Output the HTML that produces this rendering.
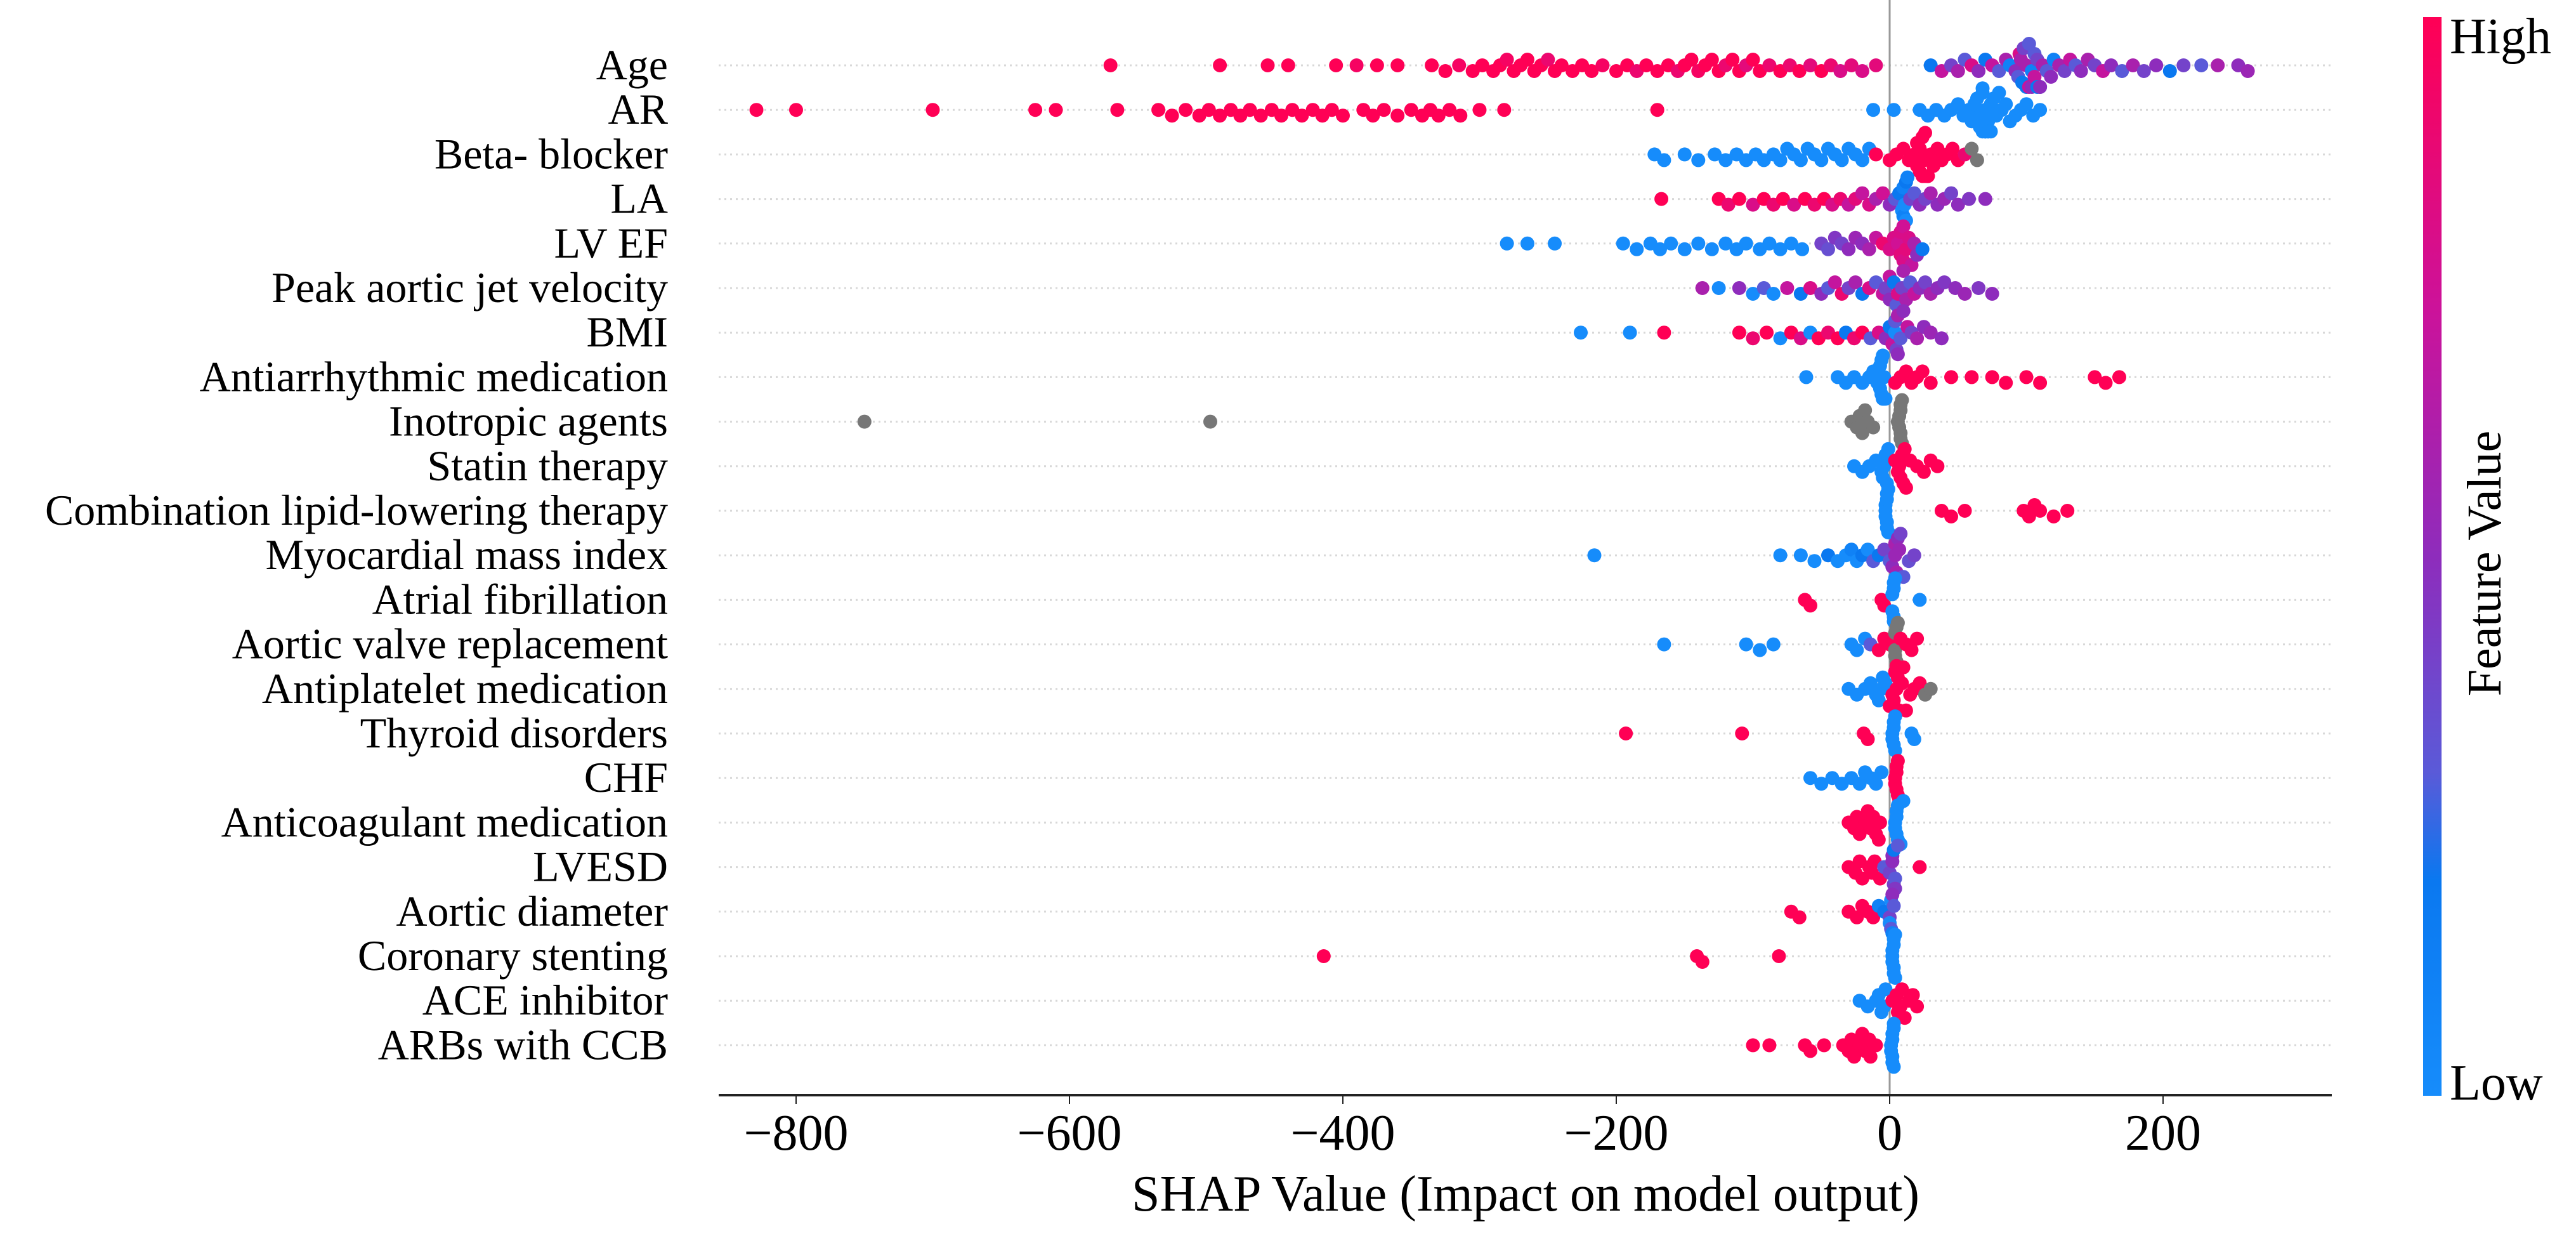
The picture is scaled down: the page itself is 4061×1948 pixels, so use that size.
<!DOCTYPE html>
<html><head><meta charset="utf-8"><style>
html,body{margin:0;padding:0;background:#fff;}
svg{display:block;font-family:"Liberation Serif",serif;}
</style></head><body>
<svg id="chart" width="4061" height="1948" viewBox="0 0 4061 1948" xmlns="http://www.w3.org/2000/svg">
<defs>
<linearGradient id="cbgrad" x1="0" y1="1" x2="0" y2="0">
<stop offset="0" stop-color="#168cfb"/><stop offset="0.2" stop-color="#0a78f0"/>
<stop offset="0.3" stop-color="#5a5ad8"/><stop offset="0.5" stop-color="#8e2cbc"/>
<stop offset="0.73" stop-color="#cc129a"/><stop offset="1" stop-color="#ff0055"/>
</linearGradient>
</defs>
<g id="grid"></g>
<line id="zeroline" stroke="#999" stroke-width="3"/>
<g id="dots"></g>
<g id="labels"></g>
<g id="xaxis"></g>
<text x="2405" y="1908" font-size="80" text-anchor="middle">SHAP Value (Impact on model output)</text>
<rect x="3820" y="27" width="29" height="1700" fill="url(#cbgrad)"/>
<text x="3862" y="84" font-size="80">High</text>
<text x="3862" y="1733" font-size="80">Low</text>
<text x="0" y="0" font-size="76" text-anchor="middle" transform="translate(3942,888) rotate(-90)">Feature Value</text>
</svg>
<script>
const categories = ["Age","AR","Beta- blocker","LA","LV EF","Peak aortic jet velocity","BMI","Antiarrhythmic medication","Inotropic agents","Statin therapy","Combination lipid-lowering therapy","Myocardial mass index","Atrial fibrillation","Aortic valve replacement","Antiplatelet medication","Thyroid disorders ","CHF","Anticoagulant medication","LVESD","Aortic diameter","Coronary stenting","ACE inhibitor","ARBs with CCB"];
const xTicks = [-800,-600,-400,-200,0,200];
const xTickLabels = ["\u2212800","\u2212600","\u2212400","\u2212200","0","200"];
// each point: [shap value, feature value 0..1 (-1 = missing/grey)]
const shapPoints = [
 [[-570,1],[-490,1],[-455,1],[-440,1],[-405,1],[-390,.95],[-375,1],[-360,1],[-335,1],[-325,1],[-315,.95],[-305,1],[-298,1],[-290,1],[-285,1],[-280,.95],[-275,1],[-270,1],[-265,1],[-260,1],[-255,1],[-250,.9],[-245,1],[-240,1],[-232,1],[-225,1],[-218,1],[-210,.95],[-200,1],[-192,1],[-185,.9],[-178,1],[-170,1],[-162,1],[-155,.9],[-150,1],[-145,1],[-140,.95],[-135,1],[-130,1],[-125,1],[-120,.9],[-115,1],[-110,1],[-105,.85],[-100,1],[-95,1],[-88,.9],[-80,1],[-73,.9],[-66,1],[-58,.85],[-50,1],[-43,.9],[-36,.8],[-28,.85],[-20,.8],[-10,.85],[30,.2],[38,.7],[45,.4],[50,.6],[55,.3],[60,.8],[65,.5],[70,.2],[75,.7],[80,.3],[85,.6],[88,.1],[92,.5],[95,.8],[97,.2],[100,.6],[102,.3],[104,.1],[106,.7],[108,.4],[110,.2],[112,.6],[115,.3],[118,.5],[120,.1],[124,.6],[128,.4],[132,.7],[136,.3],[140,.5],[145,.6],[150,.4],[156,.7],[162,.5],[170,.3],[178,.6],[186,.4],[195,.5],[205,.2],[215,.4],[228,.3],[240,.6],[255,.5],[262,.55],[98,.4],[100,.2],[102,.7],[104,.5],[106,.3],[96,.6],[108,.2],[110,.5],[94,.3]],
 [[-829,1],[-800,1],[-700,1],[-625,1],[-610,1],[-565,1],[-535,1],[-525,1],[-515,1],[-505,1],[-498,1],[-490,1],[-482,1],[-475,1],[-468,1],[-460,1],[-452,1],[-445,1],[-437,1],[-430,1],[-422,1],[-415,1],[-408,1],[-400,1],[-385,1],[-378,1],[-370,1],[-360,1],[-350,1],[-342,1],[-336,1],[-330,1],[-322,1],[-314,1],[-300,1],[-282,1],[-170,1],[-12,0],[3,0],[22,0],[28,0],[34,0],[40,0],[45,0],[50,0],[54,0],[58,0],[60,0],[62,0],[64,0],[66,0],[68,0],[68,0],[70,0],[70,0],[70,0],[72,0],[72,0],[74,0],[74,0],[76,0],[78,0],[80,0],[82,0],[85,0],[88,0],[92,0],[96,0],[100,0],[105,0],[110,0],[66,0],[68,0],[70,0],[72,0]],
 [[-172,0],[-165,0],[-150,0],[-140,0],[-128,0],[-120,0],[-112,0],[-105,0],[-98,0],[-92,0],[-85,0],[-80,0],[-75,0],[-70,0],[-65,0],[-60,0],[-55,0],[-50,0],[-45,0],[-40,0],[-35,0],[-30,0],[-25,0],[-20,0],[-15,0],[-10,1],[0,1],[5,1],[10,1],[14,1],[18,1],[20,1],[22,1],[24,1],[25,1],[26,1],[28,1],[30,1],[32,1],[35,1],[38,1],[42,1],[46,1],[50,1],[55,.9],[60,-1],[64,-1],[22,1],[24,1],[26,1],[28,1],[20,1]],
 [[-167,1],[-125,1],[-118,.9],[-110,1],[-100,.8],[-92,1],[-85,.9],[-78,1],[-70,.8],[-62,1],[-55,.9],[-48,1],[-42,.8],[-36,.9],[-30,.7],[-25,.85],[-20,.7],[-15,.8],[-10,.6],[-5,.75],[0,.5],[4,.3],[7,.2],[9,0],[10,.1],[11,0],[12,.2],[13,.1],[15,.4],[18,.3],[22,.5],[26,.4],[30,.6],[35,.5],[40,.55],[45,.4],[50,.5],[58,.45],[70,.5],[10,.1],[12,0]],
 [[-280,0],[-265,0],[-245,0],[-195,0],[-185,0],[-175,0],[-168,0],[-160,0],[-150,0],[-140,0],[-130,0],[-120,0],[-112,0],[-105,0],[-95,0],[-88,0],[-80,0],[-72,0],[-64,0],[-50,.4],[-45,.35],[-40,.45],[-35,.4],[-30,.5],[-25,.55],[-20,.5],[-15,.6],[-10,.7],[-5,.9],[0,.8],[3,.8],[6,.75],[8,.85],[10,.8],[12,.85],[14,.8],[16,.7],[18,.6],[20,.5],[24,.2],[8,.8],[10,.75]],
 [[-137,.6],[-125,0],[-110,.5],[-100,0],[-92,.3],[-85,0],[-75,.7],[-65,.2],[-58,.8],[-50,.5],[-45,.3],[-40,.7],[-35,.9],[-30,.4],[-25,.6],[-20,.2],[-15,.8],[-10,.3],[-5,.7],[0,.5],[3,.2],[6,.8],[9,.4],[12,.6],[15,.3],[18,.7],[22,.5],[26,.4],[30,.6],[35,.5],[40,.45],[48,.5],[55,.55],[65,.45],[75,.5],[0,.7],[5,.3],[10,.6],[-3,.4]],
 [[-226,0],[-190,0],[-165,1],[-110,1],[-100,.9],[-90,1],[-80,0],[-72,1],[-65,.8],[-58,0],[-52,1],[-45,.9],[-38,1],[-32,.2],[-26,.9],[-20,1],[-14,.3],[-8,.8],[-3,.5],[0,.2],[2,.7],[4,0],[5,.4],[6,.6],[8,.3],[10,.5],[13,.7],[16,.4],[20,.6],[25,.5],[30,.55],[38,.5],[4,.3],[6,.5]],
 [[-61,0],[-38,0],[-32,0],[-26,0],[-20,0],[-15,0],[-12,0],[-9,0],[-7,0],[-6,0],[-5,0],[-4,0],[-3,0],[-6,0],[-5,0],[-4,0],[-7,0],[-5,0],[4,1],[8,1],[12,1],[16,1],[20,1],[24,1],[30,1],[45,1],[60,1],[75,1],[85,1],[100,1],[110,1],[150,1],[158,1],[168,1]],
 [[-750,-1],[-497,-1],[-28,-1],[-24,-1],[-20,-1],[-16,-1],[-12,-1],[-22,-1],[-18,-1],[6,-1],[7,-1],[8,-1],[8,-1],[9,-1],[8,-1],[7,-1],[9,-1],[8,-1]],
 [[-26,0],[-20,0],[-15,0],[-10,0],[-6,0],[-4,0],[-2,0],[-3,0],[-1,0],[-5,0],[4,1],[6,1],[8,1],[10,1],[12,1],[9,1],[11,1],[15,1],[20,1],[25,1],[30,1],[35,1],[7,1]],
 [[-3,0],[-2,0],[-1,0],[-2,0],[-3,0],[-1,0],[-2,0],[-2,0],[-1,0],[-3,0],[38,1],[45,1],[55,1],[98,1],[102,1],[106,1],[110,1],[120,1],[130,1]],
 [[-216,0],[-80,0],[-65,0],[-55,0],[-45,.2],[-38,0],[-32,0],[-28,.1],[-24,0],[-20,.2],[-16,0],[-12,.3],[-8,.2],[-4,.4],[0,.3],[2,.5],[4,.55],[5,.6],[6,.5],[7,.55],[8,.4],[10,.3],[14,.35],[18,.4],[4,.6],[6,.5]],
 [[-62,1],[-58,1],[-6,1],[-4,1],[2,0],[3,0],[4,0],[3,0],[4,0],[3,0],[2,0],[4,0],[3,0],[22,0]],
 [[-165,0],[-105,0],[-95,0],[-85,0],[-28,0],[-24,0],[-18,0],[-14,.3],[-8,1],[-4,1],[0,1],[4,-1],[5,-1],[6,-1],[4,-1],[5,-1],[8,1],[12,1],[16,1],[20,1],[5,1],[4,-1]],
 [[-30,0],[-24,0],[-18,0],[-14,0],[-10,0],[-6,0],[-3,0],[-8,0],[-5,0],[0,1],[3,1],[6,1],[9,1],[12,1],[15,1],[18,1],[22,1],[4,1],[7,1],[10,1],[5,1],[26,-1],[30,-1],[2,1]],
 [[-193,1],[-108,1],[-19,1],[-16,1],[2,0],[3,0],[4,0],[3,0],[2,0],[4,0],[3,0],[16,0],[18,0]],
 [[-58,0],[-50,0],[-42,0],[-35,0],[-28,0],[-22,0],[-18,0],[-14,0],[-10,0],[-6,0],[4,1],[5,1],[6,1],[5,1],[4,1],[6,1],[5,1],[7,1]],
 [[-30,1],[-26,1],[-22,1],[-18,1],[-14,1],[-10,1],[-7,1],[-24,1],[-16,1],[-12,1],[-8,1],[4,0],[5,0],[6,0],[4,0],[5,0],[6,0],[5,0],[10,0],[8,0]],
 [[-30,1],[-25,1],[-20,1],[-15,1],[-11,1],[-7,1],[-22,1],[-13,1],[-4,.3],[0,.4],[2,.5],[3,.4],[4,.3],[2,.5],[3,.2],[4,.45],[6,.3],[22,1]],
 [[-72,1],[-66,1],[-30,1],[-24,1],[-20,1],[-16,1],[-12,1],[-8,.1],[-4,.2],[0,.4],[1,0],[2,.5],[1,.3],[2,.1],[0,0],[3,.3]],
 [[-414,1],[-141,1],[-137,1],[-81,1],[2,0],[3,0],[4,0],[3,0],[2,0],[4,0],[3,0],[2,0],[4,0],[3,0]],
 [[-22,0],[-16,0],[-10,0],[-6,0],[-3,0],[-8,0],[-4,0],[2,1],[5,1],[8,1],[11,1],[14,1],[17,1],[20,1],[6,1],[9,1]],
 [[-100,1],[-88,1],[-62,1],[-58,1],[-48,1],[-34,1],[-30,1],[-26,1],[-22,1],[-18,1],[-14,1],[-10,1],[-28,1],[-20,1],[-15,1],[1,0],[2,0],[3,0],[2,0],[1,0],[3,0],[2,0],[3,0],[2,0]]
];

const NS = "http://www.w3.org/2000/svg";
const X0 = 2979, PX_PER_UNIT = 2.155;
const PLOT_L = 1133, PLOT_R = 3676, AXIS_Y = 1726;
const ROW_Y0 = 103, ROW_STEP = 70.2;
const xScale = v => X0 + v * PX_PER_UNIT;
const yScale = i => ROW_Y0 + i * ROW_STEP;
const R = 11;

function colorFor(c){
  if (c < 0) return "#777777";
  const stops = [[0,[22,140,251]],[0.2,[10,120,240]],[0.3,[90,90,216]],[0.5,[142,44,188]],[0.73,[204,18,154]],[1,[255,0,85]]];
  for (let k=1;k<stops.length;k++){
    if (c <= stops[k][0]){
      const a=stops[k-1], b=stops[k], t=(c-a[0])/(b[0]-a[0]);
      const rgb=a[1].map((q,j)=>Math.round(q+(b[1][j]-q)*t));
      return "rgb("+rgb.join(",")+")";
    }
  }
  return "rgb(255,0,85)";
}

const grid = document.getElementById("grid");
const dots = document.getElementById("dots");
const labels = document.getElementById("labels");
const xaxis = document.getElementById("xaxis");

const zl = document.getElementById("zeroline");
zl.setAttribute("x1", xScale(0)); zl.setAttribute("x2", xScale(0));
zl.setAttribute("y1", 0); zl.setAttribute("y2", AXIS_Y);

categories.forEach((name, i) => {
  const y = yScale(i);
  const gl = document.createElementNS(NS, "line");
  
  
  gl.setAttribute("x1", PLOT_L); gl.setAttribute("x2", PLOT_R);
  gl.setAttribute("y1", y); gl.setAttribute("y2", y);
  gl.setAttribute("stroke", "#d8d8d8"); gl.setAttribute("stroke-width", "3");
  gl.setAttribute("stroke-dasharray", "3 6");
  grid.appendChild(gl);

  const t = document.createElementNS(NS, "text");
  
  
  t.setAttribute("x", 1053); t.setAttribute("y", y + 22);
  t.setAttribute("font-size", "68"); t.setAttribute("text-anchor", "end");
  t.setAttribute("xml:space", "preserve");
  t.textContent = name;
  labels.appendChild(t);

  const pts = shapPoints[i].map(p => ({x: xScale(p[0]), c: p[1]})).sort((a,b)=>a.x-b.x);
  const placed = [];
  pts.forEach(p => {
    let off = 0;
    for (let k=0;k<12;k++){
      const cand = (k===0)?0:((k%2===1)?1:-1)*Math.ceil(k/2)*9;
      const clash = placed.some(q => Math.abs(q.x-p.x) < 2*R && Math.abs(q.o-cand) < 9);
      off = cand;
      if (!clash) break;
    }
    off = Math.max(-34, Math.min(34, off));
    placed.push({x:p.x, o:off});
    const cir = document.createElementNS(NS, "circle");
    
    
    cir.setAttribute("cx", p.x.toFixed(1));
    cir.setAttribute("cy", (y + off).toFixed(1));
    cir.setAttribute("r", R);
    cir.setAttribute("fill", colorFor(p.c));
    dots.appendChild(cir);
  });
});

const ax = document.createElementNS(NS, "line");


ax.setAttribute("x1", PLOT_L); ax.setAttribute("x2", PLOT_R);
ax.setAttribute("y1", AXIS_Y); ax.setAttribute("y2", AXIS_Y);
ax.setAttribute("stroke", "#222"); ax.setAttribute("stroke-width", "4");
xaxis.appendChild(ax);
xTicks.forEach((v, k) => {
  const tk = document.createElementNS(NS, "line");
  
  
  tk.setAttribute("x1", xScale(v)); tk.setAttribute("x2", xScale(v));
  tk.setAttribute("y1", AXIS_Y); tk.setAttribute("y2", AXIS_Y + 14);
  tk.setAttribute("stroke", "#222"); tk.setAttribute("stroke-width", "2");
  xaxis.appendChild(tk);
  const tl = document.createElementNS(NS, "text");
  
  
  tl.setAttribute("x", xScale(v)); tl.setAttribute("y", 1812);
  tl.setAttribute("font-size", "80"); tl.setAttribute("text-anchor", "middle");
  tl.textContent = xTickLabels[k];
  xaxis.appendChild(tl);
});
</script>
</body></html>
